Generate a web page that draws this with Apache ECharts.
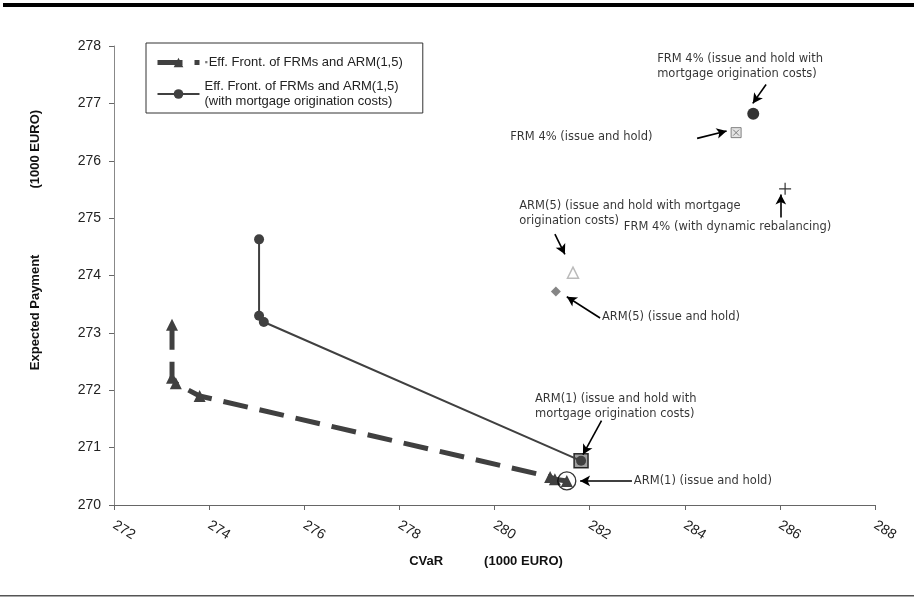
<!DOCTYPE html>
<html>
<head>
<meta charset="utf-8">
<script src="https://cdn.jsdelivr.net/npm/echarts@6/dist/echarts.min.js"></script>
<style>html,body{margin:0;padding:0;background:#fff;}#c{width:914px;height:604px;}</style>
</head>
<body>
<div id="c"></div>
<script>
// ---- data ----
var xTicks = [272, 274, 276, 278, 280, 282, 284, 286, 288];
var yTicks = [270, 271, 272, 273, 274, 275, 276, 277, 278];
var frontierName = 'Eff. Front. of FRMs and ARM(1,5)';
var frontierCostName = 'Eff. Front. of FRMs and ARM(1,5)\n(with mortgage origination costs)';
var frontier = [[273.22, 273.14], [273.22, 272.22], [273.3, 272.12], [273.8, 271.9], [281.17, 270.49], [281.27, 270.45], [281.52, 270.42]];
var frontierCost = [[275.05, 274.63], [275.05, 273.3], [275.15, 273.19], [281.82, 270.77]];
var arm1Hold = [[281.52, 270.42]];
var arm1Cost = [[281.82, 270.77]];
var arm5Hold = [[281.29, 273.72]];
var arm5Cost = [[281.65, 274.05]];
var frmHold = [[285.08, 276.49]];
var frmCost = [[285.44, 276.82]];
var frmDynamic = [[286.11, 275.51]];

// annotations: text, anchor (data coords), arrow from -> to (data coords)
var annTexts = ['FRM 4% (issue and hold with\nmortgage origination costs)', 'FRM 4% (issue and hold)', 'FRM 4% (with dynamic rebalancing)',
  'ARM(5) (issue and hold with mortgage\norigination costs)', 'ARM(5) (issue and hold)',
  'ARM(1) (issue and hold with\nmortgage origination costs)', 'ARM(1) (issue and hold)'];
var annAnchors = [[283.42, 277.64], [280.33, 276.41], [282.72, 274.85], [280.52, 275.08], [282.26, 273.28], [280.85, 271.72], [282.93, 270.42]];
var annArrows = [
  [[285.71, 277.33], [285.43, 277.0]],
  [[284.26, 276.39], [284.88, 276.52]],
  [[286.02, 275.01], [286.02, 275.41]],
  [[281.27, 274.72], [281.48, 274.37]],
  [[282.22, 273.26], [281.52, 273.63]],
  [[282.25, 271.47], [281.86, 270.88]],
  [[282.89, 270.42], [281.8, 270.42]]
];

var chart = echarts.init(document.getElementById('c'), null, {renderer: 'canvas'});
var dark = '#404040';
var annFont = 'DejaVu Sans';
var titleFont = 'Liberation Sans';

var option = {
  backgroundColor: '#fff',
  animation: false,
  grid: {left: 114, right: 39, top: 46, bottom: 99, containLabel: false},
  xAxis: {
    type: 'value', min: xTicks[0], max: xTicks[xTicks.length - 1], interval: 2,
    axisLine: {lineStyle: {color: '#666', width: 1}},
    axisTick: {show: true, length: 5, lineStyle: {color: '#666'}},
    axisLabel: {rotate: -32, fontFamily: 'Liberation Sans', fontSize: 14, color: '#222', margin: 19},
    splitLine: {show: false}
  },
  yAxis: {
    type: 'value', min: yTicks[0], max: yTicks[yTicks.length - 1], interval: 1,
    axisLine: {show: true, lineStyle: {color: '#888', width: 1}},
    axisTick: {show: true, length: 5, lineStyle: {color: '#666'}},
    axisLabel: {fontFamily: 'Liberation Sans', fontSize: 14, color: '#222', margin: 13},
    splitLine: {show: false}
  },
  legend: {
    orient: 'vertical', left: 146, top: 43,
    padding: [12, 20, 4, 9], itemGap: 9,
    itemWidth: 42, itemHeight: 12,
    borderColor: '#333', borderWidth: 1, borderRadius: 0,
    data: [
      {name: frontierName, lineStyle: {width: 5, type: [25, 12]}},
      {name: frontierCostName, lineStyle: {width: 2}}
    ],
    textStyle: {fontFamily: 'Liberation Sans', fontSize: 13, color: '#222', lineHeight: 15,
      rich: {sq: {fontSize: 9, color: '#777', padding: [0, 1, 0, 0]}}},
    formatter: function (n) { return n === frontierName ? '{sq|▪}' + n : n; }
  },
  series: [
    {name: 'arm1Cost', type: 'scatter', data: arm1Cost, symbol: 'rect', symbolSize: 14, z: 3,
      itemStyle: {color: '#888', borderColor: '#000', borderWidth: 1.5}},
    {name: frontierName, type: 'line', data: frontier, symbol: 'triangle', symbolSize: 12, showSymbol: true, z: 4,
      lineStyle: {color: dark, width: 5, type: [25, 12]}, itemStyle: {color: dark}},
    {name: frontierCostName, type: 'line', data: frontierCost, symbol: 'circle', symbolSize: 10, z: 5,
      lineStyle: {color: dark, width: 2}, itemStyle: {color: dark}},
    {name: 'arm1Hold', type: 'scatter', data: arm1Hold, symbol: 'circle', symbolSize: 18, z: 6,
      itemStyle: {color: 'rgba(0,0,0,0)', borderColor: '#000', borderWidth: 1.3}},
    {name: 'arm5Hold', type: 'scatter', data: arm5Hold, symbol: 'diamond', symbolSize: 10, z: 6,
      itemStyle: {color: '#666'}},
    {name: 'arm5Cost', type: 'scatter', data: arm5Cost, symbol: 'triangle', symbolSize: 11, z: 6,
      itemStyle: {color: '#fff', borderColor: '#aaa', borderWidth: 1.5}},
    {name: 'frmHold', type: 'scatter', data: frmHold, symbol: 'path://M0,0H10V10H0Z M2,2L8,8 M8,2L2,8', symbolSize: 10, z: 6,
      itemStyle: {color: '#ddd', borderColor: '#666', borderWidth: 1}},
    {name: 'frmCost', type: 'scatter', data: frmCost, symbol: 'circle', symbolSize: 12, z: 6,
      itemStyle: {color: '#000'}},
    {name: 'frmDynamic', type: 'scatter', data: frmDynamic, symbol: 'path://M0,5L10,5M5,0L5,10', symbolSize: 12, z: 6,
      itemStyle: {color: 'none', borderColor: '#000', borderWidth: 1.2}},
    {name: 'annotations', type: 'scatter', symbolSize: 0, z: 7,
      data: annAnchors.map(function (p, i) { return {value: p, label: {formatter: annTexts[i]}}; }),
      label: {show: true, position: 'right', distance: 0, fontFamily: annFont, fontSize: 11.5, color: '#000', lineHeight: 15, align: 'left'},
      markLine: {
        silent: true, symbol: ['none', 'arrow'], symbolSize: [8, 10], animation: false,
        label: {show: false},
        lineStyle: {color: '#000', width: 1.6, type: 'solid'},
        data: annArrows.map(function (a) { return [{coord: a[0]}, {coord: a[1]}]; })
      }
    }
  ],
  graphic: [
    {type: 'rect', shape: {x: 3, y: 3, width: 911, height: 4}, style: {fill: '#000'}},
    {type: 'rect', shape: {x: 0, y: 595, width: 914, height: 1.5}, style: {fill: '#555'}},
    {type: 'text', x: 486, y: 561, style: {
      text: '{t|CVaR}{g|}{t|(1000 EURO)}', align: 'center', verticalAlign: 'middle',
      rich: {t: {fontFamily: titleFont, fontWeight: 'bold', fontSize: 13, fill: '#111'}, g: {width: 41}}}},
    {type: 'text', x: 35, y: 240, rotation: Math.PI / 2, style: {
      text: '{t|Expected Payment}{g|}{t|(1000 EURO)}', align: 'center', verticalAlign: 'middle',
      rich: {t: {fontFamily: titleFont, fontWeight: 'bold', fontSize: 13, fill: '#111'}, g: {width: 66}}}}
  ]
};
chart.setOption(option);
</script>
</body>
</html>
